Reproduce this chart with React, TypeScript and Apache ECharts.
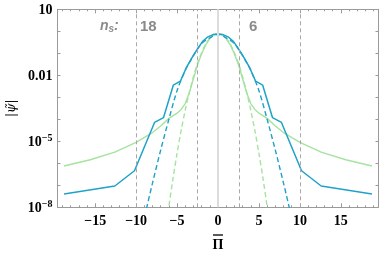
import React, { useEffect, useRef } from "react";
import * as echarts from "echarts";

// ---- data ----
const blueSolidX = [-18.8, -12.6, -10.2, -7.75, -6.65, -5.45, -4.6, -3.9, -3.1, -2.5, -1.9, -1.3, -0.6, 0, 0.6, 1.3, 1.9, 2.5, 3.1, 3.9, 4.6, 5.45, 6.65, 7.75, 10.2, 12.6, 18.8];
const blueSolidY = [4.0e-8, 9.3e-8, 4.6e-7, 7.2e-5, 1.2e-4, 3.6e-3, 5.4e-3, 0.021, 0.071, 0.16, 0.34, 0.54, 0.71, 0.74, 0.71, 0.54, 0.34, 0.16, 0.071, 0.021, 5.4e-3, 3.6e-3, 1.2e-4, 7.2e-5, 4.6e-7, 9.3e-8, 4.0e-8];

const blueDashedX = [-10, -9, -8, -7, -6, -5, -4, -3, -2, -1, 0, 1, 2, 3, 4, 5, 6, 7, 8, 9, 10];
const blueDashedY = [6.3e-11, 3.2e-9, 1.26e-7, 4e-6, 1e-4, 2.0e-3, 0.0166, 0.079, 0.28, 0.5, 0.74, 0.5, 0.28, 0.079, 0.0166, 2.0e-3, 1e-4, 4e-6, 1.26e-7, 3.2e-9, 6.3e-11];

const greenSolidX = [-18.8, -15.6, -12.6, -10, -8, -7, -6, -5, -4.5, -4, -3.5, -3, -2.5, -2, -1.5, -1, -0.5, 0, 0.5, 1, 1.5, 2, 2.5, 3, 3.5, 4, 4.5, 5, 6, 7, 8, 10, 12.6, 15.6, 18.8];
const greenSolidY = [7.5e-7, 1.45e-6, 3.2e-6, 9e-6, 2.5e-5, 5e-5, 1.1e-4, 1.9e-4, 2.8e-4, 5.2e-4, 1.6e-3, 7e-3, 0.03, 0.095, 0.24, 0.47, 0.7, 0.79, 0.7, 0.47, 0.24, 0.095, 0.03, 7e-3, 1.6e-3, 5.2e-4, 2.8e-4, 1.9e-4, 1.1e-4, 5e-5, 2.5e-5, 9e-6, 3.2e-6, 1.45e-6, 7.5e-7];

const greenDashedX = [-7, -6.5, -6, -5.5, -5, -4.5, -4, -3.5, -3, -2.5, -2, -1.5, -1, -0.5, 0, 0.5, 1, 1.5, 2, 2.5, 3, 3.5, 4, 4.5, 5, 5.5, 6, 6.5, 7];
const greenDashedY = [1.6e-11, 4.9e-10, 1.1e-8, 2.0e-7, 2.8e-6, 3.1e-5, 2.6e-4, 1.7e-3, 8.7e-3, 0.035, 0.107, 0.26, 0.48, 0.7, 0.79, 0.7, 0.48, 0.26, 0.107, 0.035, 8.7e-3, 1.7e-3, 2.6e-4, 3.1e-5, 2.8e-6, 2.0e-7, 1.1e-8, 4.9e-10, 1.6e-11];

const xMajorTicks = [-15, -10, -5, 0, 5, 10, 15];
const xMinorTicks = [-19, -18, -17, -16, -14, -13, -12, -11, -9, -8, -7, -6, -4, -3, -2, -1, 1, 2, 3, 4, 6, 7, 8, 9, 11, 12, 13, 14, 16, 17, 18, 19];
const yLabelExponents = [1, -2, -5, -8];
const nsGuides = [-10, -2.57, 2.57, 10];
const nsLabels = ["18", "6"];

const pairs = (xs: number[], ys: number[]) => xs.map((x, i) => [x, ys[i]]);

const BLUE = "#1fa2c8";
const GREEN = "#a6e3a0";
const FRAME = "#9a9a9a";
const SERIF = "Liberation Serif";

export default function App() {
  const ref = useRef<HTMLDivElement>(null);
  useEffect(() => {
    if (!ref.current) return;
    const chart = echarts.init(ref.current, undefined, { renderer: "svg" });
    const gridRect = { left: 57.5, right: 3.5, top: 9.3, bottom: 45.7, containLabel: false, outerBoundsMode: "none" };
    const xmin = -19.6;
    const xmax = 19.6;
    const minorAxis = (pos: string) => ({
      gridIndex: 1,
      type: "value",
      position: pos,
      min: xmin,
      max: xmax,
      axisLine: { show: false, onZero: false },
      axisTick: { show: true, inside: true, length: 2, customValues: xMinorTicks, lineStyle: { color: FRAME } },
      axisLabel: { show: false },
      splitLine: { show: false },
    });
    const option: any = {
      animation: false,
      grid: [{ ...gridRect }, { ...gridRect }],
      xAxis: [
        {
          gridIndex: 0,
          type: "value",
          position: "bottom",
          min: xmin,
          max: xmax,
          axisLine: { show: true, onZero: false, lineStyle: { color: FRAME, width: 1 } },
          axisTick: { show: true, inside: true, length: 4, customValues: xMajorTicks, lineStyle: { color: FRAME } },
          axisLabel: {
            customValues: xMajorTicks,
            formatter: (v: number) => (v < 0 ? "\u2212" + -v : String(v)),
            color: "#000",
            fontFamily: SERIF,
            fontWeight: "bold",
            fontSize: 14,
            margin: 6,
          },
          splitLine: { show: false },
          name: "\u03A0",
          nameLocation: "middle",
          nameGap: 30,
          nameTextStyle: { color: "#000", fontFamily: SERIF, fontWeight: "bold", fontSize: 14 },
        },
        {
          gridIndex: 0,
          type: "value",
          position: "top",
          min: xmin,
          max: xmax,
          axisLine: { show: true, onZero: false, lineStyle: { color: FRAME, width: 1 } },
          axisTick: { show: true, inside: true, length: 4, customValues: xMajorTicks, lineStyle: { color: FRAME } },
          axisLabel: { show: false },
          splitLine: { show: false },
        },
        minorAxis("bottom"),
        minorAxis("top"),
      ],
      yAxis: [
        {
          gridIndex: 0,
          type: "log",
          logBase: 10,
          min: 1e-8,
          max: 10,
          interval: 1,
          position: "left",
          axisLine: { show: true, onZero: false, lineStyle: { color: FRAME, width: 1 } },
          axisTick: { show: true, inside: true, length: 3, lineStyle: { color: FRAME } },
          axisLabel: {
            margin: 5,
            formatter: (v: number) => {
              const e = Math.round(Math.log10(v));
              if (!yLabelExponents.includes(e)) return "";
              if (e === 1) return "{n|10}";
              if (e === -2) return "{n|0.01}";
              return "{n|10}{s|\u2212" + -e + "}";
            },
            rich: {
              n: { fontFamily: SERIF, fontWeight: "bold", fontSize: 14, color: "#000" },
              s: { fontFamily: SERIF, fontWeight: "bold", fontSize: 10, color: "#000", padding: [0, 0, 8, 0] },
            },
          },
          splitLine: { show: false },
          name: "|\u03C8\u0303|",
          nameLocation: "middle",
          nameGap: 40,
          nameTextStyle: { color: "#000", fontFamily: "DejaVu Serif", fontStyle: "italic", fontSize: 12 },
        },
        {
          gridIndex: 0,
          type: "log",
          logBase: 10,
          min: 1e-8,
          max: 10,
          interval: 1,
          position: "right",
          axisLine: { show: true, onZero: false, lineStyle: { color: FRAME, width: 1 } },
          axisTick: { show: true, inside: true, length: 3, lineStyle: { color: FRAME } },
          axisLabel: { show: false },
          splitLine: { show: false },
        },
        { gridIndex: 1, type: "value", show: false },
      ],
      series: [
        {
          type: "line",
          xAxisIndex: 0,
          yAxisIndex: 0,
          data: [],
          z: 1,
          markLine: {
            silent: true,
            symbol: "none",
            label: { show: false },
            data: [
              { xAxis: 0, lineStyle: { color: "#dcdcdc", width: 2, type: "solid" } },
              ...nsGuides.map((v) => ({ xAxis: v, lineStyle: { color: "#a8a8a8", width: 1, type: [4, 3] } })),
            ],
          },
        },
        {
          type: "line",
          xAxisIndex: 0,
          yAxisIndex: 0,
          data: pairs(greenSolidX, greenSolidY),
          showSymbol: false,
          lineStyle: { color: GREEN, width: 1.4 },
          z: 2,
        },
        {
          type: "line",
          xAxisIndex: 0,
          yAxisIndex: 0,
          data: pairs(greenDashedX, greenDashedY),
          showSymbol: false,
          smooth: 0.3,
          lineStyle: { color: GREEN, width: 1.4, type: [5, 3] },
          z: 2,
        },
        {
          type: "line",
          xAxisIndex: 0,
          yAxisIndex: 0,
          data: pairs(blueDashedX, blueDashedY),
          showSymbol: false,
          smooth: 0.3,
          lineStyle: { color: BLUE, width: 1.4, type: [5, 3] },
          z: 3,
        },
        {
          type: "line",
          xAxisIndex: 0,
          yAxisIndex: 0,
          data: pairs(blueSolidX, blueSolidY),
          showSymbol: false,
          lineStyle: { color: BLUE, width: 1.5 },
          z: 4,
        },
      ],
      graphic: [
        {
          type: "line",
          shape: { x1: 213, y1: 235, x2: 223, y2: 235 },
          style: { stroke: "#000", lineWidth: 1.3 },
        },
        {
          type: "text",
          x: 100,
          y: 25,
          style: {
            text: "{i|n}{sub|s}{i|:}",
            rich: {
              i: { fontFamily: "Liberation Sans", fontStyle: "italic", fontWeight: "bold", fontSize: 14, fill: "#8a8a8a" },
              sub: { fontFamily: "Liberation Sans", fontStyle: "italic", fontWeight: "bold", fontSize: 10, fill: "#8a8a8a", padding: [6, 0, 0, 0] },
            },
            verticalAlign: "middle",
          },
        },
        {
          type: "text",
          x: 140,
          y: 25,
          style: { text: nsLabels[0], fontFamily: "Liberation Sans", fontWeight: "bold", fontSize: 15, fill: "#8a8a8a", verticalAlign: "middle" },
        },
        {
          type: "text",
          x: 249,
          y: 25,
          style: { text: nsLabels[1], fontFamily: "Liberation Sans", fontWeight: "bold", fontSize: 15, fill: "#8a8a8a", verticalAlign: "middle" },
        },
      ],
    };
    chart.setOption(option);
    return () => chart.dispose();
  }, []);
  return <div ref={ref} style={{ position: "fixed", left: 0, top: 0, width: 382, height: 253 }} />;
}
